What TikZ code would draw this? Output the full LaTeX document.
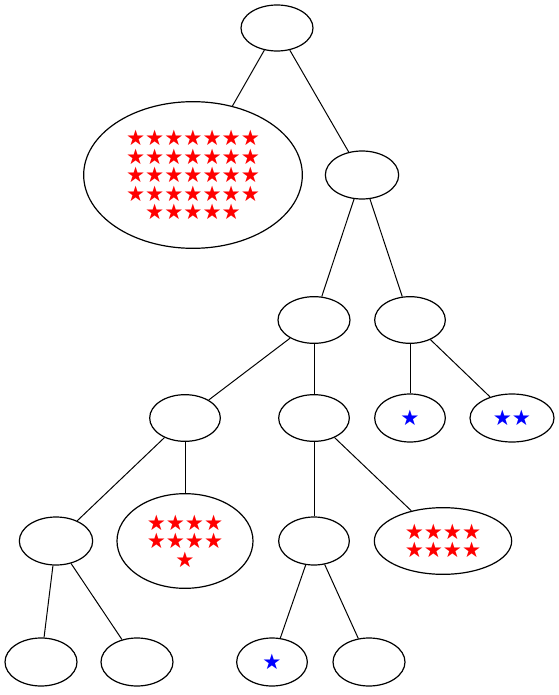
\documentclass[tikz,border=0pt]{standalone}
\usepackage{fontspec}
\newfontfamily\symfont{DejaVu Sans}
\usetikzlibrary{shapes.geometric}
\tikzset{
  tn/.style={draw=black, line width=0.9pt, ellipse, inner sep=0pt, minimum width=#1},
  tn/.default=54pt,
  st/.style={font=\symfont\fontsize{16}{13.9}\selectfont, align=center},
  edge/.style={draw=black, line width=0.75pt}
}
\begin{document}
\begin{tikzpicture}[x=0.75pt,y=-0.75pt]
\useasboundingbox (0,0) rectangle (559,695);
\node[tn=54pt, minimum height=34.5pt] (root) at (277,28) {};
\node[tn=164pt, minimum height=110pt, st, text=red] (big) at (193,175) {★★★★★★★\\★★★★★★★\\★★★★★★★\\★★★★★★★\\★★★★★};
\node[tn=55pt, minimum height=36pt] (A) at (362,175) {};
\node[tn=54pt, minimum height=35pt] (B) at (314,320) {};
\node[tn=53pt, minimum height=35pt] (C) at (410,320) {};
\node[tn=53pt, minimum height=35pt] (D) at (185,418) {};
\node[tn=53pt, minimum height=35pt] (E) at (314,418) {};
\node[tn=53pt, minimum height=36pt, st, text=blue] (s1) at (410,418) {★};
\node[tn=63pt, minimum height=36pt, st, text=blue] (s2) at (512,418) {★★};
\node[tn=55pt, minimum height=36pt] (F) at (56,541) {};
\node[tn=102pt, minimum height=71pt, st, text=red] (nine) at (185,541) {★★★★\\★★★★\\★};
\node[tn=53pt, minimum height=36pt] (G) at (314,541) {};
\node[tn=103pt, minimum height=50pt, st, text=red] (eight) at (443,541) {★★★★\\★★★★};
\node[tn=54pt, minimum height=36pt] (F1) at (41,662) {};
\node[tn=54pt, minimum height=36pt] (F2) at (137,662) {};
\node[tn=53pt, minimum height=36pt, st, text=blue] (G1) at (272,662) {★};
\node[tn=54pt, minimum height=36pt] (G2) at (369,662) {};
\draw[edge] (root) -- (big);
\draw[edge] (root) -- (A);
\draw[edge] (A) -- (B);
\draw[edge] (A) -- (C);
\draw[edge] (C) -- (s1);
\draw[edge] (C) -- (s2);
\draw[edge] (B) -- (D);
\draw[edge] (B) -- (E);
\draw[edge] (D) -- (F);
\draw[edge] (D) -- (nine);
\draw[edge] (E) -- (G);
\draw[edge] (E) -- (eight);
\draw[edge] (F) -- (F1);
\draw[edge] (F) -- (F2);
\draw[edge] (G) -- (G1);
\draw[edge] (G) -- (G2);
\end{tikzpicture}
\end{document}
